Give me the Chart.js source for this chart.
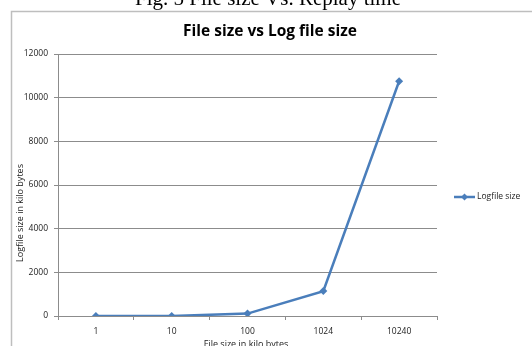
<!DOCTYPE html>
<html><head><meta charset="utf-8">
<script src="https://cdn.jsdelivr.net/npm/chart.js@4/dist/chart.umd.min.js"></script>
<style>html,body{margin:0;padding:0;background:#fff;overflow:hidden}#wrap{width:532px;height:346px;position:relative}</style>
</head><body><div id="wrap"><canvas id="c" width="532" height="346"></canvas></div>
<script>
const categories = ["1", "10", "100", "1024", "10240"];
const logfileSize = [0, 0, 110, 1140, 10750];
const yTicks = [0, 2000, 4000, 6000, 8000, 10000, 12000];
const seriesName = "Logfile size";
const chartTitle = "File size vs Log file size";
const caption = "Fig. 5 File size Vs. Replay time";
const xTitle = "File size in kilo bytes";
const yTitle = "Logfile size in kilo bytes";

const BLUE = '#4A7EBB';
const GRID = '#8C8C8C';
const SANS = '"Open Sans", Lato, sans-serif';

const decor = {
  id: 'decor',
  beforeDraw(chart) {
    const ctx = chart.ctx;
    ctx.save();
    ctx.fillStyle = '#fff';
    ctx.fillRect(0, 0, chart.width, chart.height);
    ctx.strokeStyle = '#BEBEBE';
    ctx.lineWidth = 1.5;
    ctx.beginPath();
    ctx.moveTo(11.5, 346); ctx.lineTo(11.5, 11.5); ctx.lineTo(532, 11.5);
    ctx.stroke();
    ctx.restore();
  },
  afterDraw(chart) {
    const ctx = chart.ctx;
    ctx.save();
    ctx.fillStyle = '#000';
    ctx.font = '21px "Liberation Serif", "Times New Roman", serif';
    ctx.textAlign = 'center';
    ctx.textBaseline = 'alphabetic';
    ctx.fillText(caption, 268, 5);
    ctx.font = 'bold 15.5px ' + SANS;
    ctx.fillText(chartTitle, 270, 36);
    ctx.fillStyle = '#222';
    ctx.font = '9px ' + SANS;
    ctx.fillText(xTitle, 246, 347);
    ctx.save();
    ctx.translate(20, 213);
    ctx.rotate(-Math.PI / 2);
    ctx.textBaseline = 'middle';
    ctx.fillText(yTitle, 0, 0);
    ctx.restore();
    const ly = 197;
    ctx.strokeStyle = BLUE; ctx.lineWidth = 2.5;
    ctx.beginPath(); ctx.moveTo(454, ly); ctx.lineTo(475, ly); ctx.stroke();
    ctx.fillStyle = BLUE;
    ctx.beginPath();
    ctx.moveTo(464.5, ly - 3.5); ctx.lineTo(468, ly); ctx.lineTo(464.5, ly + 3.5); ctx.lineTo(461, ly);
    ctx.closePath(); ctx.fill();
    ctx.fillStyle = '#222';
    ctx.font = '8.5px ' + SANS;
    ctx.textAlign = 'left';
    ctx.textBaseline = 'middle';
    ctx.fillText(seriesName, 477, ly);
    ctx.restore();
  }
};

new Chart(document.getElementById('c'), {
  type: 'line',
  data: {
    labels: categories,
    datasets: [{
      label: seriesName,
      data: logfileSize,
      borderColor: BLUE,
      backgroundColor: BLUE,
      borderWidth: 2.5,
      pointStyle: 'rectRot',
      pointRadius: 4,
      pointBorderWidth: 0,
      tension: 0,
      fill: false
    }]
  },
  options: {
    responsive: false,
    animation: false,
    events: [],
    layout: { padding: { left: 0, right: 95, top: 54, bottom: 0 } },
    plugins: { legend: { display: false }, title: { display: false }, tooltip: { enabled: false } },
    scales: {
      x: {
        offset: true,
        grid: { offset: true, drawOnChartArea: false, drawTicks: true, tickLength: 4, color: GRID },
        border: { color: GRID, width: 1 },
        ticks: { color: '#222', font: { family: SANS, size: 8.5 }, padding: 6, maxRotation: 0 },
        afterFit(s) { s.height = 30; }
      },
      y: {
        min: 0, max: 12000,
        afterBuildTicks(s) { s.ticks = yTicks.map(v => ({ value: v })); },
        grid: { color: GRID, drawTicks: true, tickLength: 4 },
        border: { color: GRID, width: 1 },
        ticks: { color: '#222', font: { family: SANS, size: 8.5 }, padding: 6, callback: v => String(v) },
        afterFit(s) { s.width = 58; }
      }
    }
  },
  plugins: [decor]
});
</script></body></html>
